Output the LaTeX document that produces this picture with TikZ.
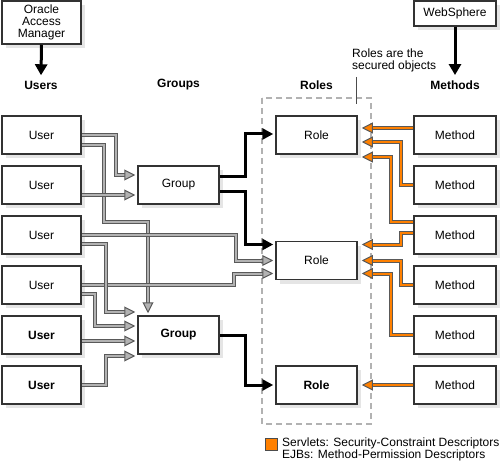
\documentclass[tikz,border=0pt]{standalone}
\usepackage{fontspec}
\setmainfont{Liberation Sans}
\usetikzlibrary{arrows.meta,shadows}
\definecolor{servlet}{RGB}{255,128,0}
\tikzset{
	box/.style={draw=black!80, line width=1.5pt, fill=white, minimum height=38pt, inner sep=0pt, align=center,
		font=\fontsize{12}{12}\selectfont,
		drop shadow={shadow xshift=4pt, shadow yshift=-4pt, fill=black!10, opacity=1}},
	hdr/.style={font=\fontsize{12}{12}\selectfont\bfseries},
	blackarr/.style={line width=3pt, -{Triangle[length=11pt,width=11pt]}, shorten >=2pt},
	downarr/.style={line width=3pt, -{Triangle[length=11pt,width=12pt]}},
	grayarr/.style={draw=black!65, line width=1pt, double=black!30, double distance=2pt,
		-{Triangle[length=11pt,width=11pt,fill=black!30]}, shorten >=2pt},
	orangearr/.style={draw=black!65, line width=1pt, double=servlet, double distance=2pt,
		-{Triangle[length=11pt,width=11pt,fill=servlet]}, shorten >=4pt}
}
\begin{document}
\begin{tikzpicture}[x=1pt, y=-1pt]
			%%%%% START %%%%%
			\useasboundingbox (0,0) rectangle (500,462);
			
			\node[box, minimum width=79pt, minimum height=43pt] (oam) at (41.5,22.5) {Oracle\\Access\\Manager};
			\node[box, minimum width=82pt, minimum height=25pt] (ws) at (455,13.5) {WebSphere};
			
			\node[hdr] (husers) at (41,85) {Users};
			\node[hdr] (hgroups) at (178.5,85) {Groups};
			\node[hdr] (hroles) at (316.5,85) {Roles};
			\node[hdr] (hmethods) at (455,85) {Methods};
			
			\draw[downarr] (oam.south) -- ([yshift=2pt]husers.north);
			\draw[downarr] (ws.south) -- ([yshift=2pt]hmethods.north);
			
			\draw[gray!60, line width=2.5pt, dash pattern=on 6pt off 4pt] (262,98) rectangle (371,424);
			
			\node[font=\fontsize{12}{12}\selectfont, align=left, anchor=west, inner sep=0pt] (note) at (352,60) {Roles are the\\secured objects};
			\coordinate (notetop) at (356,77);
			\coordinate (notebot) at (356,104);
			\draw[black!70, line width=0.6pt] (notetop) -- (notebot);
			
			\node[box, minimum width=79pt] (u1) at (41.5,135) {User};
			\node[box, minimum width=79pt] (u2) at (41.5,185) {User};
			\node[box, minimum width=79pt] (u3) at (41.5,235) {User};
			\node[box, minimum width=79pt] (u4) at (41.5,285) {User};
			\node[box, minimum width=79pt, font=\fontsize{12}{12}\selectfont\bfseries] (u5) at (41.5,335) {User};
			\node[box, minimum width=79pt, font=\fontsize{12}{12}\selectfont\bfseries] (u6) at (41.5,385) {User};
			
			\node[box, minimum width=81pt] (g1) at (178.5,185) {Group};
			\node[box, minimum width=81pt, font=\fontsize{12}{12}\selectfont\bfseries] (g2) at (178.5,335) {Group};
			
			\node[box, minimum width=81pt] (r1) at (316.5,135) {Role};
			\node[box, minimum width=81pt] (r2) at (316.5,260.5) {Role};
			\node[box, minimum width=81pt, font=\fontsize{12}{12}\selectfont\bfseries] (r3) at (316.5,385) {Role};
			
			\foreach \i/\y in {1/135,2/185,3/235,4/285,5/335,6/385}
				\node[box, minimum width=82pt] (m\i) at (455,\y) {Method};
			
			% users to groups and roles
			\draw[grayarr] ([yshift=-10pt]u1.east) -- ++(22,0) -- ++(0,77) -| ([xshift=-30.5pt]g2.north);
			\draw[grayarr] (u3.east) -- ++(154,0) |- (r2.west);
			\draw[grayarr] (u4.east) -- ++(152,0) |- ([yshift=-13pt]r2.west);
			\draw[grayarr] (u1.east) -- ++(34,0) |- ([yshift=10pt]g1.west);
			\draw[grayarr] ([yshift=-10pt]u2.east) -- ([yshift=-10pt]g1.west);
			\draw[grayarr] ([yshift=-9pt]u3.east) -- ++(24,0) |- ([yshift=23pt]g2.west);
			\draw[grayarr] ([yshift=-9pt]u4.east) -- ++(13,0) |- ([yshift=9pt]g2.west);
			\draw[grayarr] ([yshift=-6pt]u5.east) -- ([yshift=-6pt]g2.west);
			\draw[grayarr] (u6.east) -- ++(24,0) |- ([yshift=-21pt]g2.west);
			
			% groups to roles
			\draw[blackarr] ([yshift=8pt]g1.east) -- ++(26,0) |- ([yshift=1pt]r1.west);
			\draw[blackarr] ([yshift=-7pt]g1.east) -- ++(26,0) |- ([yshift=16pt]r2.west);
			\draw[blackarr] (g2.east) -- ++(26,0) |- (r3.west);
			
			% methods to roles
			\draw[orangearr] ([yshift=7pt]m1.west) -- ([yshift=7pt]r1.east);
			\draw[orangearr] (m2.west) -- ++(-12,0) |- ([yshift=-7pt]r1.east);
			\draw[orangearr] ([yshift=13pt]m3.west) -- ++(-22,0) |- ([yshift=-22pt]r1.east);
			\draw[orangearr] ([yshift=2pt]m3.west) -- ++(-12,0) |- ([yshift=16pt]r2.east);
			\draw[orangearr] (m4.west) -- ++(-12,0) |- (r2.east);
			\draw[orangearr] (m5.west) -- ++(-22,0) |- ([yshift=-13pt]r2.east);
			\draw[orangearr] (m6.west) -- (r3.east);
			
			% legend
			\draw[black!70, fill=servlet, line width=0.8pt] (265,438) rectangle (277,450);
			\node[font=\fontsize{12}{12}\selectfont, align=left, anchor=west, inner sep=0pt] (legend) at (282,449) {Servlets: Security-Constraint Descriptors\\EJBs: Method-Permission Descriptors};
			%%%%% END %%%%%
\end{tikzpicture}
\end{document}
